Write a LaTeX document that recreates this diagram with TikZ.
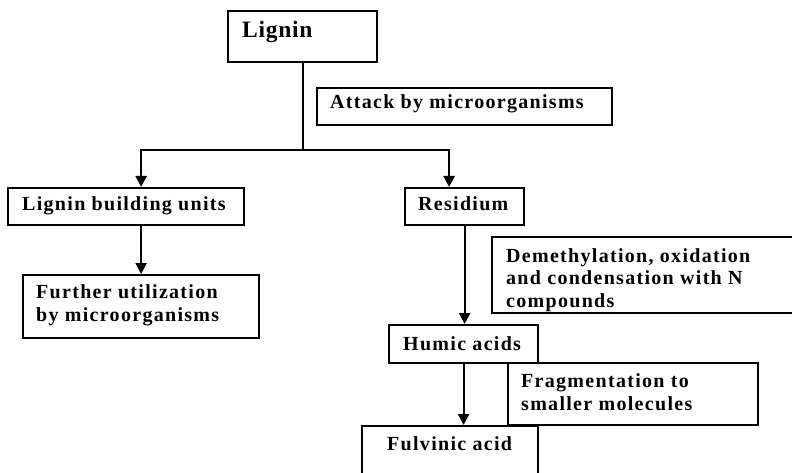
\documentclass[tikz,border=0pt]{standalone}
\usepackage{fontspec}
\setmainfont{Liberation Serif}
\newfontfamily\labelfont{Liberation Serif}[LetterSpace=6.5]
\newfontfamily\headfont{Liberation Serif}[LetterSpace=3]
\usetikzlibrary{arrows.meta}

\begin{document}
\begin{tikzpicture}[x=1pt, y=-1pt,
  box/.style={draw, line width=2.2pt, inner sep=0pt, anchor=north west,
              minimum width=#1},
  box/.default=100pt,
  % multi-line labels are anchored at the baseline of their last line
  lbl/.style={inner sep=0pt, anchor=base west, align=left,
              font=\labelfont\bfseries\fontsize{20}{22.5}\selectfont},
  head/.style={inner sep=0pt, anchor=base west,
               font=\headfont\bfseries\fontsize{23.5}{26}\selectfont},
  link/.style={line width=2.2pt},
  arr/.style={line width=2.2pt, -{Triangle[length=11pt, width=11pt]}}
]
\clip (0,0) rectangle (792,473);
\fill[white] (0,0) rectangle (792,473);

% boxes
\node[box=149pt, minimum height=51pt] (lignin)   at (227,10)  {};
\node[box=295pt, minimum height=37pt] (attack)   at (316,87)  {};
\node[box=236pt, minimum height=37pt] (units)    at (7,187)   {};
\node[box=119pt, minimum height=37pt] (residium) at (404,187) {};
\node[box=236pt, minimum height=63pt] (further)  at (22,274)  {};
\node[box=309pt, minimum height=76pt] (demeth)   at (491,236) {};
\node[box=149pt, minimum height=38pt] (humic)    at (388,324) {};
\node[box=250pt, minimum height=62pt] (frag)     at (507,362) {};
\node[box=176pt, minimum height=65pt] (fulvinic) at (361,425) {};

% texts
\node[head] (lignin-t)   at (242,37.5)  {Lignin};
\node[lbl]  (attack-t)   at (330,109)   {Attack by microorganisms};
\node[lbl]  (units-t)    at (22,211)    {Lignin building units};
\node[lbl]  (residium-t) at (418,211)   {Residium};
\node[lbl]  (further-t)  at (36,321)    {Further utilization\\by microorganisms};
\node[lbl]  (demeth-t)   at (506,307)   {Demethylation, oxidation\\and condensation with N\\compounds};
\node[lbl]  (humic-t)    at (403,350)   {Humic acids};
\node[lbl]  (frag-t)     at (521,410)   {Fragmentation to\\smaller molecules};
\node[lbl]  (fulvinic-t) at (387,450.5) {Fulvinic acid};

% connectors
\path (lignin.south) ++(0,87) coordinate (split);
\draw[link] (lignin.south) -- (split);
\draw[arr] (split) -| ([xshift=15pt]units.north);
\draw[arr] (split) -| ([xshift=-15.5pt]residium.north);
\draw[arr] (units.south -| further.north) -- (further.north);
\draw[arr] (residium.south) -- (residium.south |- humic.north);
\draw[arr] (humic.south) -- (humic.south |- fulvinic.north);
\end{tikzpicture}
\end{document}
